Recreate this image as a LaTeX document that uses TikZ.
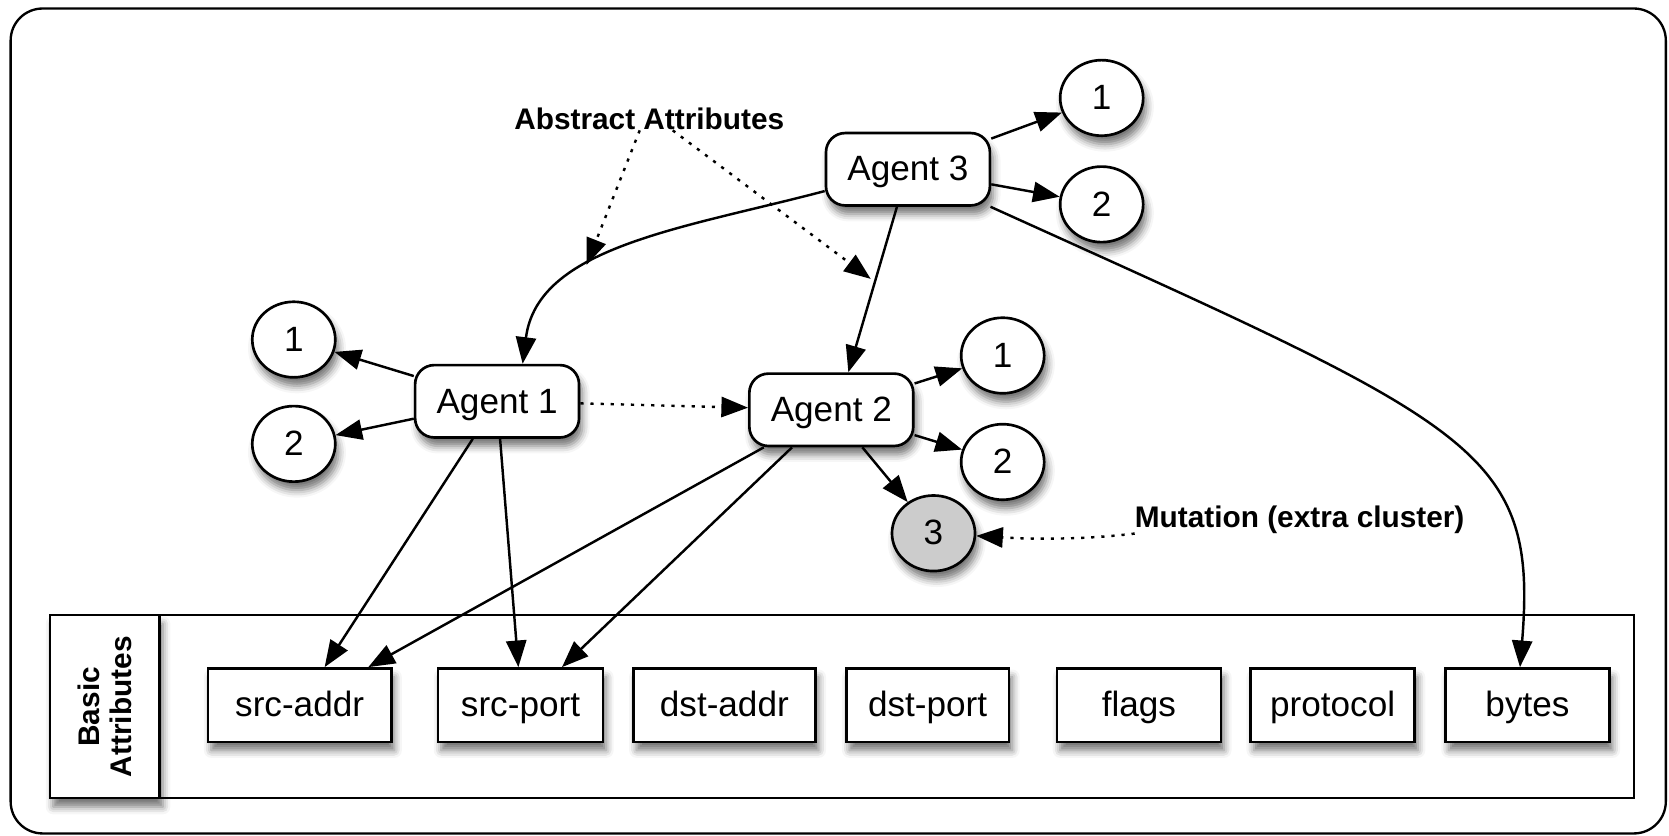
\documentclass[tikz,border=0pt]{standalone}
\usepackage{fontspec}
\setmainfont{Liberation Sans}
\usetikzlibrary{arrows.meta,shadows.blur,shapes.geometric}
\begin{document}
\begin{tikzpicture}[x=1pt,y=-1pt,
  every node/.style={inner sep=0pt},
  shad/.style={blur shadow={shadow xshift=3pt,shadow yshift=-8pt,shadow blur radius=7pt,shadow opacity=55}},
  txt/.style={font=\fontsize{33}{38}\selectfont,text height=25pt,text depth=3pt},
  agent/.style={draw,line width=2.5pt,rounded corners=18pt,fill=white,minimum width=154pt,minimum height=68pt,shad,txt},
  circ/.style={draw,ellipse,line width=2.5pt,fill=white,minimum width=78pt,minimum height=71pt,shad,txt},
  attr/.style={draw,line width=2.5pt,fill=white,minimum height=69pt,shad,txt},
  lbl/.style={font=\bfseries\fontsize{28}{32}\selectfont},
  arr/.style={line width=2.3pt,-{Triangle[length=25pt,width=19pt]}},
  dotarr/.style={arr,dash pattern=on 3pt off 6.5pt}
]
\useasboundingbox (0,0) rectangle (1568,785);
\draw[line width=2.2pt,rounded corners=30pt] (10,8) rectangle (1565,783);

% basic attributes
\draw[line width=2.2pt] (47,578) rectangle (1535,750);
\node[draw,line width=2.2pt,fill=white,minimum width=103pt,minimum height=172pt,shad] (ba) at (98.5,664) {};
\node[rotate=90,align=center,font=\bfseries\fontsize{28}{30}\selectfont] (batext) at (ba) {Basic\\Attributes};

\node[attr,minimum width=172pt] (sa) at (281.5,662.5) {src-addr};
\node[attr,minimum width=155pt] (sp) at (489,662.5) {src-port};
\node[attr,minimum width=171pt] (da) at (680.5,662.5) {dst-addr};
\node[attr,minimum width=153pt] (dp) at (871.5,662.5) {dst-port};
\node[attr,minimum width=154pt] (fl) at (1070,662.5) {flags};
\node[attr,minimum width=154pt] (pr) at (1252,662.5) {protocol};
\node[attr,minimum width=154pt] (by) at (1435,662.5) {bytes};

% agents
\node[agent] (a1) at (467,377) {Agent 1};
\node[agent] (a2) at (781,385) {Agent 2};
\node[agent] (a3) at (853,159) {Agent 3};

\node[circ] (a3c1) at (1035,92) {1};
\node[circ] (a3c2) at (1035,192) {2};
\node[circ] (a1c1) at (276,319) {1};
\node[circ] (a1c2) at (276,417) {2};
\node[circ] (a2c1) at (942,334) {1};
\node[circ] (a2c2) at (942,434) {2};
\node[circ,fill=black!20] (a2c3) at (877,501) {3};

\node[lbl] (abs) at (610,112) {Abstract Attributes};
\node[lbl,anchor=west] (mut) at (1066,488) {Mutation (extra cluster)};

% connectors
\draw[arr] (a1) -- (a1c1);
\draw[arr] (a1) -- (a1c2);
\draw[arr] (a2) -- (a2c1);
\draw[arr] (a2) -- (a2c2);
\draw[arr] (a2) -- (a2c3);
\draw[arr] (a3) -- (a3c1);
\draw[arr] (a3) -- (a3c2);
\draw[dotarr] (a1) -- (a2);
\draw[arr] (a3) .. controls (640,215) and (505,232) .. ([xshift=24pt]a1.north);
\draw[arr] (a3) -- ([xshift=16pt]a2.north);
\draw[arr] (a3) .. controls (1385,400) and (1445,420) .. ([xshift=-7pt]by.north);
\draw[arr] (a1) -- ([xshift=23.5pt]sa.north);
\draw[arr] (a1) -- ([xshift=-2pt]sp.north);
\draw[arr] (a2) -- ([xshift=64.5pt]sa.north);
\draw[arr] (a2) -- ([xshift=39pt]sp.north);

\coordinate (aa1) at (551,249);
\coordinate (aa2) at (818,262);
\draw[dotarr] ([xshift=-9pt]abs.south) -- (aa1);
\draw[dotarr] ([xshift=22pt]abs.south) -- (aa2);
\draw[dotarr] (mut.south west) .. controls (1010,508) and (960,506) .. (a2c3);
\end{tikzpicture}
\end{document}
